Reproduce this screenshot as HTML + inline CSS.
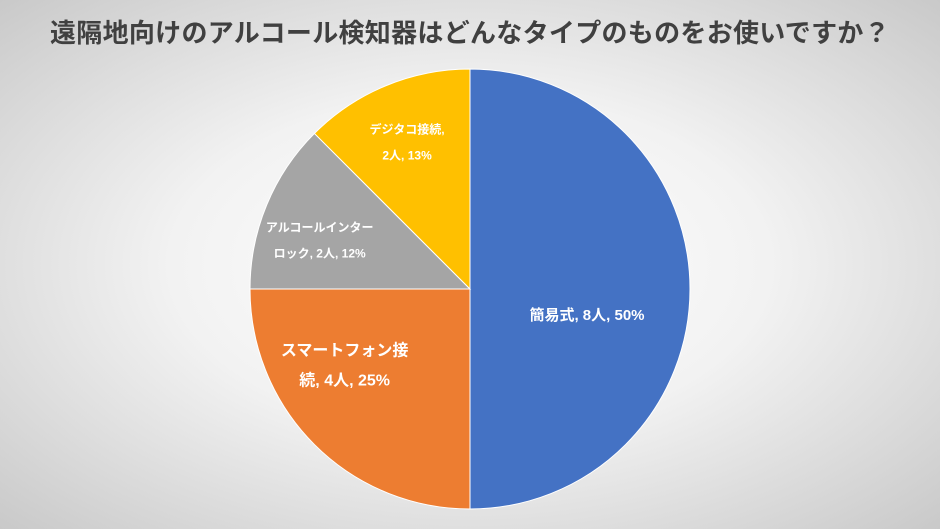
<!DOCTYPE html>
<html><head><meta charset="utf-8">
<style>
html,body{margin:0;padding:0}
body{width:940px;height:529px;overflow:hidden;font-family:"Liberation Sans","Noto Sans CJK JP",sans-serif;
background:radial-gradient(ellipse at 50% 50%,#ffffff 0%,#f2f2f2 45%,#c9c9c9 100%);position:relative}
#title{position:absolute;left:0;top:13px;width:940px;text-align:center;font-size:26px;font-weight:bold;color:#404040;letter-spacing:0.3px;white-space:nowrap}
svg{position:absolute;left:0;top:0}
</style></head><body>
<div id="title">遠隔地向けのアルコール検知器はどんなタイプのものをお使いですか？</div>
<svg id="chart" width="940" height="529"></svg>
<script>
const categories=["簡易式","スマートフォン接続","アルコールインターロック","デジタコ接続"];
const values=[8,4,2,2];
const percentLabels=["50%","25%","12%","13%"];
const colors=["#4472c4","#ed7d31","#a5a5a5","#ffc000"];
const labelLines=[["簡易式, 8人, 50%"],["スマートフォン接","続, 4人, 25%"],["アルコールインター","ロック, 2人, 12%"],["デジタコ接続,","2人, 13%"]];
const cx=470,cy=289,r=220;
const svg=document.getElementById('chart');
const NS='http://www.w3.org/2000/svg';
const total=values.reduce((a,b)=>a+b,0);
function pt(a,rr){return [cx+rr*Math.sin(a),cy-rr*Math.cos(a)];}
const labelR=[0.55,0.6,0.72,0.7];
const offX=[-4,-32,-4,-4], offY=[27,-16,13,-3];
const fs=[15,16,12,12];
const lh=[20,30,26,26];
let start=0;
values.forEach((v,i)=>{
  const ang=v/total*2*Math.PI, end=start+ang;
  const [x1,y1]=pt(start,r),[x2,y2]=pt(end,r);
  const p=document.createElementNS(NS,'path');
  p.setAttribute('d',`M${cx},${cy} L${x1},${y1} A${r},${r} 0 ${ang>Math.PI?1:0} 1 ${x2},${y2} Z`);
  p.setAttribute('fill',colors[i]);
  p.setAttribute('stroke','#ffffff');p.setAttribute('stroke-width','1');
  
  
  svg.appendChild(p);
  const mid=(start+end)/2;
  let [lx,ly]=pt(mid,r*labelR[i]);
  lx+=offX[i]; ly+=offY[i];
  const n=labelLines[i].length;
  const t=document.createElementNS(NS,'text');
  t.setAttribute('x',lx);t.setAttribute('y',ly-(n-1)*lh[i]/2);
  t.setAttribute('text-anchor','middle');t.setAttribute('dominant-baseline','middle');
  t.setAttribute('fill','#ffffff');t.setAttribute('font-weight','bold');t.setAttribute('font-size',fs[i]);
  
  
  labelLines[i].forEach((ln,k)=>{
    const s=document.createElementNS(NS,'tspan');
    s.setAttribute('x',lx);if(k>0)s.setAttribute('dy',lh[i]);
    s.textContent=ln;t.appendChild(s);
  });
  svg.appendChild(t);
  start=end;
});
</script>
</body></html>
